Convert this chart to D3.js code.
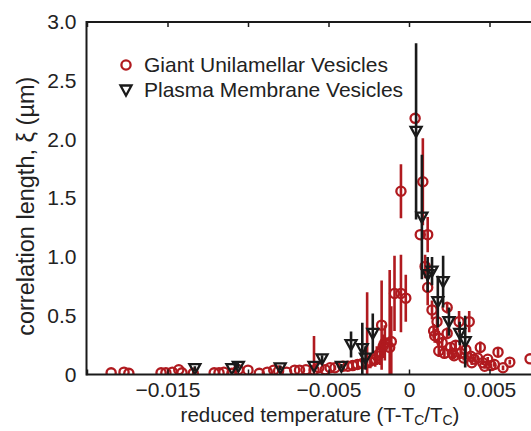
<!DOCTYPE html>
<html><head><meta charset="utf-8">
<script src="https://cdn.jsdelivr.net/npm/d3@7"></script>
<style>
body{margin:0;background:#fff;}
text{font-family:"Liberation Sans",Arial,Helvetica,sans-serif;}
</style></head><body>
<svg id="c" width="531" height="431"></svg>
<script>
// Giant Unilamellar Vesicles (GUV): reduced temperature, correlation length (µm), error
const guvX = [-0.0185,-0.0177,-0.0174,-0.0154,-0.0151,-0.0147,-0.0143,-0.0141,-0.0134,-0.0121,-0.0118,-0.0115,-0.0110,-0.0106,-0.0100,-0.0093,-0.0088,-0.0084,-0.0081,-0.0076,-0.0071,-0.0068,-0.0064,-0.0059,-0.0056,-0.0052,-0.0049,-0.0046,-0.0041,-0.0038,-0.0035,-0.0032,-0.0029,-0.0026,-0.0024,-0.0021,-0.0020,-0.0018,-0.0017,-0.0016,-0.0015,-0.0012,-0.0011,-0.0009,-0.0005,-0.0002,-0.0005,0.00038,0.00086,0.0007,0.00116,0.0010,0.00116,0.00143,0.00153,0.00174,0.00185,0.00185,0.00206,0.00237,0.00237,0.00258,0.00269,0.0029,0.00311,0.00321,0.00353,0.00374,0.00384,0.00405,0.00426,0.00443,0.00458,0.00489,0.0051,0.00553,0.00584,0.00626,0.00752,0.0016,0.0022,0.0028,0.0034,0.0039,0.0047,0.0053];
const guvY = [0.014,0.02,0.01,0.014,0.014,0.02,0.04,0.014,0.01,0.014,0.014,0.02,0.01,0.04,0.037,0.01,0.02,0.037,0.03,0.02,0.037,0.037,0.04,0.037,0.057,0.04,0.057,0.057,0.07,0.07,0.076,0.085,0.093,0.10,0.113,0.127,0.16,0.18,0.42,0.24,0.27,0.23,0.28,0.69,0.69,0.65,1.56,2.18,1.64,1.19,1.19,0.92,0.74,0.55,0.37,0.45,0.2,0.31,0.27,0.57,0.35,0.23,0.18,0.25,0.45,0.18,0.21,0.45,0.155,0.13,0.14,0.23,0.10,0.13,0.076,0.19,0.057,0.105,0.133,0.33,0.18,0.16,0.14,0.10,0.07,0.085];
const guvErr = [0,0,0,0,0,0,0,0,0.02,0,0,0,0,0,0,0,0,0,0,0,0,0,0,0.29,0,0,0,0.02,0,0,0.03,0.04,0.05,0.6,0.06,0.06,0.08,0.1,0.38,0.1,0.15,0.66,0.3,0.32,0.33,0.2,0.23,0,0.37,0,0.15,0.1,0.15,0.08,0.06,0.08,0.05,0.06,0.05,0.05,0.05,0.04,0.03,0.04,0.09,0.03,0.03,0.09,0.03,0.02,0.02,0.05,0.02,0.02,0.02,0.04,0.02,0.02,0,0.06,0.03,0.03,0.02,0.02,0.02,0.02];

// Plasma Membrane Vesicles (PMV)
const pmvX = [-0.0133,-0.0110,-0.0106,-0.0080,-0.0059,-0.0054,-0.0042,-0.0036,-0.0029,-0.0027,-0.00225,0.00044,0.0008,0.00116,0.00143,0.00179,0.00212,0.00248,0.00315,0.00349];
const pmvY = [0.05,0.05,0.07,0.057,0.07,0.133,0.07,0.255,0.22,0.14,0.35,2.07,1.34,0.85,0.88,0.62,0.79,0.45,0.35,0.28];
const pmvErr = [0.02,0,0.02,0.02,0,0.03,0.02,0.11,0.22,0.1,0.17,0.75,0.53,0.15,0.12,0.22,0.22,0.12,0.1,0.22];

const xTicks = [-0.02,-0.015,-0.01,-0.005,0,0.005];
const xTickLabels = ["","\u22120.015","","\u22120.005","0","0.005"];
const yTicks = [0,0.5,1.0,1.5,2.0,2.5,3.0];
const yTickLabels = ["0","0.5","1.0","1.5","2.0","2.5","3.0"];
const seriesNames = ["Giant Unilamellar Vesicles","Plasma Membrane Vesicles"];

const RED = "#b01a1f";
const INK = "#1a1a1a";
const FS = 21;
const svg = d3.select("#c");
const L = 86.5, T = 22, B = 374.5;
const x = d3.scaleLinear().domain([-0.02, 0.01]).range([87, 570]);
const y = d3.scaleLinear().domain([0, 3]).range([B, T]);

svg.append("defs").append("clipPath").attr("id","clip")
  .append("rect").attr("x",L).attr("y",T).attr("width",531-L).attr("height",B-T);

const plot = svg.append("g").attr("clip-path","url(#clip)");

function drawSeries(xs, ys, es, color, shape){
  const g = plot.append("g");
  g.selectAll("line.err").data(xs.map((d,i)=>({x:d,y:ys[i],e:es[i]})).filter(d=>d.e>0))
    .join("line").attr("class","err")
    .attr("x1",d=>x(d.x)).attr("x2",d=>x(d.x))
    .attr("y1",d=>y(d.y+d.e)).attr("y2",d=>y(Math.max(d.y-d.e,-0.1)))
    .attr("stroke",color).attr("stroke-width",2.6);
  const pts = xs.map((d,i)=>({x:d,y:ys[i]}));
  if(shape==="circle"){
    g.selectAll("circle").data(pts).join("circle")
      .attr("cx",d=>x(d.x)).attr("cy",d=>y(d.y)).attr("r",4.6)
      .attr("fill","none").attr("stroke",color).attr("stroke-width",2.3);
  } else {
    g.selectAll("path.tri").data(pts).join("path").attr("class","tri")
      .attr("d",d=>{const cx=x(d.x), cy=y(d.y); return `M${cx-5.5},${cy-4.5}L${cx+5.5},${cy-4.5}L${cx},${cy+5.5}Z`;})
      .attr("fill","none").attr("stroke",color).attr("stroke-width",2.3).attr("stroke-linejoin","miter");
  }
}
drawSeries(guvX, guvY, guvErr, RED, "circle");
drawSeries(pmvX, pmvY, pmvErr, INK, "tri");

// frame
svg.append("line").attr("x1",L).attr("x2",531).attr("y1",B).attr("y2",B).attr("stroke",INK).attr("stroke-width",2);
svg.append("line").attr("x1",L).attr("x2",531).attr("y1",T).attr("y2",T).attr("stroke",INK).attr("stroke-width",2);
svg.append("line").attr("x1",L).attr("x2",L).attr("y1",T-1).attr("y2",B+1).attr("stroke",INK).attr("stroke-width",2);

// x axis
const xa = svg.append("g").attr("transform",`translate(0,${B})`)
  .call(d3.axisBottom(x).tickValues(xTicks).tickSizeInner(-5).tickSizeOuter(0)
    .tickFormat((d,i)=>xTickLabels[i]).tickPadding(8));
xa.select(".domain").remove();
xa.selectAll("line").attr("stroke",INK).attr("stroke-width",1.5);
xa.selectAll("text").attr("font-size",FS).attr("fill","#222");
const xt = svg.append("g").attr("transform",`translate(0,${T})`)
  .call(d3.axisTop(x).tickValues(xTicks).tickSizeInner(-5).tickSizeOuter(0).tickFormat(""));
xt.select(".domain").remove();
xt.selectAll("line").attr("stroke",INK).attr("stroke-width",1.5);

// y axis
const ya = svg.append("g").attr("transform",`translate(${L},0)`)
  .call(d3.axisLeft(y).tickValues(yTicks).tickSizeInner(0).tickSizeOuter(0)
    .tickFormat((d,i)=>yTickLabels[i]).tickPadding(10));
ya.select(".domain").remove();
ya.selectAll("text").attr("font-size",FS).attr("fill","#222");

// axis titles
const xTitle = svg.append("text").attr("x",x(0)-89).attr("y",421.5).attr("text-anchor","middle")
  .attr("font-size",20.5).attr("fill","#222");
xTitle.append("tspan").text("reduced temperature (T-T");
xTitle.append("tspan").attr("font-size",14).attr("dy",3).text("C");
xTitle.append("tspan").attr("dy",-3).text("/T");
xTitle.append("tspan").attr("font-size",14).attr("dy",3).text("C");
xTitle.append("tspan").attr("dy",-3).text(")");

svg.append("text").attr("transform",`translate(34,${(T+B)/2+8}) rotate(-90)`)
  .attr("text-anchor","middle").attr("font-size",23.5).attr("fill","#222")
  .text("correlation length, \u03BE (\u00B5m)");

// legend
const lg = svg.append("g");
lg.append("circle").attr("cx",126).attr("cy",65).attr("r",4.6).attr("fill","none").attr("stroke",RED).attr("stroke-width",2.3);
lg.append("path").attr("d","M120.5,85.5L131.5,85.5L126,95.5Z").attr("fill","none").attr("stroke",INK).attr("stroke-width",2.3);
lg.append("text").attr("x",144).attr("y",72).attr("font-size",FS).attr("fill","#222").text(seriesNames[0]);
lg.append("text").attr("x",144).attr("y",97).attr("font-size",FS).attr("fill","#222").text(seriesNames[1]);
</script></body></html>
